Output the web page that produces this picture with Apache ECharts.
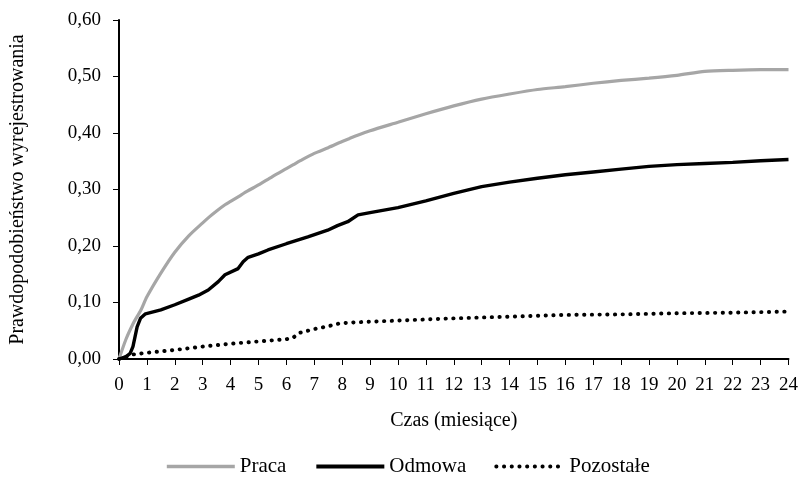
<!DOCTYPE html>
<html>
<head>
<meta charset="utf-8">
<script src="https://cdn.jsdelivr.net/npm/echarts@6/dist/echarts.min.js"></script>
<style>html,body{margin:0;padding:0;background:#fff;}#c{width:801px;height:477px;}</style>
</head>
<body>
<div id="c"></div>
<script>
// Data
const xTicks = [0,1,2,3,4,5,6,7,8,9,10,11,12,13,14,15,16,17,18,19,20,21,22,23,24];
const yTicks = [0,0.1,0.2,0.3,0.4,0.5,0.6];

const pracaMonths = [0,0.25,0.5,0.65,0.8,1,1.5,2,2.5,3,3.25,3.5,3.8,4,4.3,4.6,5,5.5,6,6.25,6.5,7,7.5,8,8.25,8.5,9,10,11,12,13,14,15,16,17,18,19,20,21,22,23,24];
const pracaValues = [0,0.035,0.062,0.075,0.088,0.11,0.152,0.189,0.218,0.241,0.252,0.262,0.273,0.279,0.288,0.297,0.308,0.323,0.337,0.344,0.351,0.364,0.374,0.385,0.39,0.395,0.404,0.419,0.434,0.448,0.46,0.469,0.477,0.482,0.488,0.493,0.497,0.502,0.509,0.511,0.512,0.512];

const odmowaMonths = [0,0.25,0.4,0.5,0.65,0.77,0.95,1.5,2,2.5,2.85,3.2,3.56,3.8,4.27,4.45,4.63,5,5.34,6,6.77,7.48,7.83,8.2,8.57,9,10,11,12,13,14,15,16,17,18,19,20,21,22,23,24];
const odmowaValues = [0,0.004,0.01,0.022,0.057,0.072,0.08,0.087,0.096,0.106,0.113,0.122,0.137,0.149,0.16,0.172,0.18,0.186,0.193,0.204,0.216,0.228,0.236,0.243,0.255,0.259,0.268,0.28,0.293,0.305,0.313,0.32,0.326,0.331,0.336,0.341,0.344,0.346,0.348,0.351,0.353];

const pozostaleMonths = [0,0.5,1,2,3,4,5,6,6.25,6.45,7,7.5,7.9,8.5,9,10,12,14,16,18,20,22,24];
const pozostaleValues = [0,0.008,0.011,0.016,0.022,0.027,0.031,0.035,0.038,0.046,0.053,0.058,0.063,0.065,0.066,0.068,0.072,0.075,0.078,0.079,0.081,0.082,0.084];

const seriesNames = ['Praca','Odmowa','Pozostałe'];

function pairs(xs, ys){ return xs.map((x,i)=>[x, ys[i]]); }

const FONT = 'Liberation Serif';
const chart = echarts.init(document.getElementById('c'), null, {renderer:'canvas'});
chart.setOption({
  animation:false,
  backgroundColor:'#fff',
  textStyle:{fontFamily:FONT, color:'#000'},
  grid:{left:116, right:11, top:20, bottom:118, containLabel:false},
  legend:{
    data:[
      {name:seriesNames[0], lineStyle:{width:3.6}},
      {name:seriesNames[1], lineStyle:{width:3.8}},
      {name:seriesNames[2], lineStyle:{width:3.8}}
    ],
    left:160, top:451,
    itemWidth:68, itemHeight:14, itemGap:28,
    itemStyle:{opacity:0},
    textStyle:{fontFamily:FONT, fontSize:21, color:'#000'}
  },
  xAxis:{
    type:'value', min:0, max:24, interval:1,
    name:'Czas (miesiące)', nameLocation:'middle', nameGap:52,
    nameTextStyle:{fontFamily:FONT, fontSize:20, color:'#000'},
    axisLine:{show:true, onZero:false, lineStyle:{color:'#000', width:2}},
    axisTick:{show:true, length:6, lineStyle:{color:'#000', width:1}},
    axisLabel:{fontFamily:FONT, fontSize:19, color:'#000', margin:17,
      formatter:v=> xTicks.includes(v) ? String(v) : ''},
    splitLine:{show:false}
  },
  yAxis:{
    type:'value', min:0, max:0.6, interval:0.1,
    name:'Prawdopodobieństwo wyrejestrowania', nameLocation:'middle', nameGap:91, nameRotate:90,
    nameTextStyle:{fontFamily:FONT, fontSize:20, color:'#000'},
    axisLine:{show:true, lineStyle:{color:'#000', width:2}},
    axisTick:{show:true, length:6, lineStyle:{color:'#000', width:1}},
    axisLabel:{fontFamily:FONT, fontSize:19, color:'#000', margin:18,
      formatter:v=>{ const t = yTicks.find(k=>Math.abs(k-v)<1e-9); return t===undefined ? '' : t.toFixed(2).replace('.', ','); }},
    splitLine:{show:false}
  },
  series:[
    {name:seriesNames[0], type:'line', data:pairs(pracaMonths, pracaValues), symbol:'none', smooth:0.25,
      lineStyle:{color:'#a6a6a6', width:3.2}, itemStyle:{color:'#a6a6a6'}},
    {name:seriesNames[1], type:'line', data:pairs(odmowaMonths, odmowaValues), symbol:'none', smooth:false,
      lineStyle:{color:'#000', width:3.4}, itemStyle:{color:'#000'}},
    {name:seriesNames[2], type:'line', data:pairs(pozostaleMonths, pozostaleValues), symbol:'none', smooth:false,
      lineStyle:{color:'#000', width:3.9, type:[0.3,7.4], cap:'round'}, itemStyle:{color:'#000'}}
  ]
});
</script>
</body>
</html>
